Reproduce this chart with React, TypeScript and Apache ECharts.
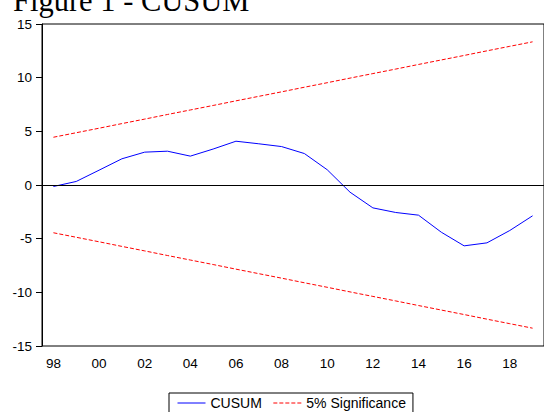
import React, { useEffect, useRef } from "react";
import * as echarts from "echarts";

const years = ["98","99","00","01","02","03","04","05","06","07","08","09","10","11","12","13","14","15","16","17","18","19"];
const cusum = [-0.14, 0.33, 1.38, 2.44, 3.06, 3.15, 2.69, 3.35, 4.08, 3.84, 3.58, 2.93, 1.42, -0.67, -2.13, -2.56, -2.81, -4.4, -5.67, -5.39, -4.24, -2.87];
const upper = [4.45, 4.87, 5.29, 5.72, 6.14, 6.57, 6.99, 7.41, 7.84, 8.26, 8.68, 9.11, 9.53, 9.96, 10.38, 10.8, 11.23, 11.65, 12.07, 12.5, 12.92, 13.34];
const lower = [-4.45, -4.87, -5.29, -5.72, -6.14, -6.57, -6.99, -7.41, -7.84, -8.26, -8.68, -9.11, -9.53, -9.96, -10.38, -10.8, -11.23, -11.65, -12.07, -12.5, -12.92, -13.34];
const titleText = "Figure 1 - CUSUM";

const SANS = "'Liberation Sans', Arial, sans-serif";

export default function App() {
  const ref = useRef<HTMLDivElement>(null);
  useEffect(() => {
    if (!ref.current) return;
    const chart = echarts.init(ref.current, null, { renderer: "svg" });
    chart.setOption({
      animation: false,
      backgroundColor: "#fff",
      graphic: [
        {
          type: "text",
          left: 13,
          top: -15,
          z: -1,
          style: {
            text: titleText,
            font: "30.5px 'Liberation Serif', 'Times New Roman', serif",
            fill: "#000",
          },
        },
      ],
      grid: {
        left: 42,
        top: 24,
        bottom: 66,
        right: -1.6,
        show: true,
        borderColor: "#000",
        borderWidth: 1,
        containLabel: false,
      },
      legend: {
        left: 169,
        top: 393,
        padding: [3, 7, 6, 8],
        borderColor: "#000",
        borderWidth: 1,
        itemWidth: 28,
        itemHeight: 14,
        itemGap: 11,
        itemStyle: { opacity: 0 },
        lineStyle: { width: 1 },
        textStyle: { fontFamily: SANS, fontSize: 14, color: "#000" },
        data: ["CUSUM", "5% Significance"],
      },
      xAxis: {
        type: "category",
        data: years,
        boundaryGap: true,
        axisLine: { lineStyle: { color: "#000", width: 1 } },
        axisTick: { interval: 0, length: 6, lineStyle: { color: "#000" } },
        axisLabel: { interval: 1, margin: 10, fontFamily: SANS, fontSize: 13.5, color: "#000" },
        splitLine: { show: false },
      },
      yAxis: {
        type: "value",
        min: -15,
        max: 15,
        interval: 5,
        axisLine: { show: true, lineStyle: { color: "#000", width: 1 } },
        axisTick: { show: true, length: 6, lineStyle: { color: "#000" } },
        axisLabel: { margin: 10, fontFamily: SANS, fontSize: 13.5, color: "#000" },
        splitLine: { show: false },
      },
      series: [
        {
          name: "CUSUM",
          type: "line",
          data: cusum,
          symbol: "none",
          lineStyle: { color: "#0000ff", width: 1 },
          itemStyle: { color: "#0000ff" },
          z: 3,
          markLine: {
            silent: true,
            symbol: "none",
            label: { show: false },
            lineStyle: { color: "#000", type: "solid", width: 1 },
            data: [{ yAxis: 0 }],
          },
        },
        {
          name: "5% Significance",
          type: "line",
          data: upper,
          symbol: "none",
          lineStyle: { color: "#ff0000", width: 1, type: [4, 2] },
          itemStyle: { color: "#ff0000" },
        },
        {
          name: "5% Significance",
          type: "line",
          data: lower,
          symbol: "none",
          lineStyle: { color: "#ff0000", width: 1, type: [4, 2] },
          itemStyle: { color: "#ff0000" },
        },
      ],
    });
    return () => chart.dispose();
  }, []);
  return (
    <div
      ref={ref}
      style={{ position: "fixed", left: 0, top: 0, width: 544, height: 412 }}
    />
  );
}
